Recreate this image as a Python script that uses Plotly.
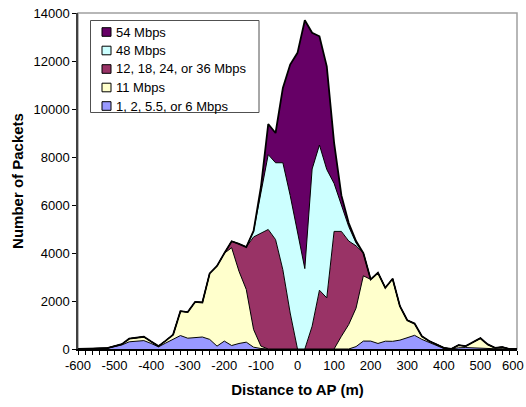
import plotly.graph_objects as go

distance = list(range(-600, 601, 20))

series_names = ["1, 2, 5.5, or 6 Mbps", "11 Mbps", "12, 18, 24, or 36 Mbps", "48 Mbps", "54 Mbps"]
series_colors = ["#9999FF", "#FFFFCC", "#993366", "#CCFFFF", "#660066"]

x_tick_vals = [-600, -500, -400, -300, -200, -100, 0, 100, 200, 300, 400, 500, 600]
x_tick_text = ["-600", "-500", "-400", "-300", "-200", "-100", "0", "100", "200", "300", "400", "500", "600"]
y_tick_vals = [0, 2000, 4000, 6000, 8000, 10000, 12000, 14000]
y_tick_text = ["0", "2000", "4000", "6000", "8000", "10000", "12000", "14000"]

rate_low = [0, 10, 20, 20, 30, 100, 170, 300, 330, 350,
            230, 90, 250, 400, 560, 450, 460, 500, 400, 120,
            330, 145, 230, 285, 75, 20, 0, 0, 0, 0,
            0, 0, 0, 0, 0, 0, 0, 0, 100, 330,
            330, 230, 325, 320, 370, 460, 570, 400, 270, 140,
            20, 0, 50, 60, 40, 40, 30, 10, 10, 0,
            0]
rate_11 = [0, 10, 10, 10, 10, 10, 30, 130, 130, 160,
           80, 30, 100, 200, 1015, 1090, 1500, 1440, 2750, 3340,
           3660, 4075, 3010, 2195, 735, 100, 0, 0, 0, 0,
           0, 0, 0, 0, 0, 0, 530, 1020, 1600, 2720,
           2570, 2945, 2225, 2605, 1410, 740, 490, 130, 60, 60,
           30, 0, 110, 60, 260, 410, 160, 40, 70, 0,
           0]
rate_mid = [0, 0, 0, 0, 0, 0, 0, 0, 0, 0,
            0, 0, 0, 0, 0, 0, 0, 0, 0, 0,
            0, 270, 1140, 1770, 3860, 4720, 4980, 4560, 3300, 1500,
            0, 0, 950, 2450, 2130, 4900, 4370, 3480, 2600, 950,
            0, 0, 0, 0, 0, 0, 0, 0, 0, 0,
            0, 0, 0, 0, 0, 0, 0, 0, 0, 0,
            0]
rate_48 = [0, 0, 0, 0, 0, 0, 0, 0, 0, 0,
           0, 0, 0, 0, 0, 0, 0, 0, 0, 0,
           0, 0, 0, 0, 250, 1660, 3120, 3200, 4460, 4900,
           4875, 3350, 6550, 6050, 5350, 2000, 1100, 600, 120, 0,
           0, 0, 0, 0, 0, 0, 0, 0, 0, 0,
           0, 0, 0, 0, 0, 0, 0, 0, 0, 0,
           0]
rate_54 = [0, 0, 0, 0, 0, 0, 0, 0, 0, 0,
           0, 0, 0, 0, 0, 0, 0, 0, 0, 0,
           0, 0, 0, 0, 0, 250, 1275, 1240, 3120, 5450,
           7465, 10350, 5675, 4530, 4300, 1700, 400, 150, 80, 0,
           0, 0, 0, 0, 0, 0, 0, 0, 0, 0,
           0, 0, 0, 0, 0, 0, 0, 0, 0, 0,
           0]

all_series = [rate_low, rate_11, rate_mid, rate_48, rate_54]
line_widths = [1, 1, 1, 1, 1.8]

W, H = 526, 407
L, R, T, B = 78, 517, 13, 349
FONT = "Arial, Liberation Sans, sans-serif"


def xp(px):
    return (px - L) / (R - L)


def yp(py):
    return (B - py) / (B - T)


fig = go.Figure()
for name, color, vals, lw in zip(series_names, series_colors, all_series, line_widths):
    fig.add_trace(go.Scatter(
        x=distance, y=vals, name=name, mode="lines",
        stackgroup="one", fillcolor=color,
        line=dict(color="black", width=lw, shape="linear"),
        showlegend=False, hoverinfo="x+y+name",
    ))

shapes = [
    dict(type="rect", xref="paper", yref="paper", x0=0, x1=1, y0=0, y1=1,
         line=dict(color="#A0A0A0", width=1.5), layer="below"),
    dict(type="rect", xref="paper", yref="paper", x0=xp(90.5), x1=xp(259), y0=yp(112.5), y1=yp(20.5),
         line=dict(color="#505050", width=1), fillcolor="white", layer="above"),
]
annotations = []
row_centers = [32, 50.5, 69, 87.5, 106]
for k, (name, color) in enumerate(zip(series_names[::-1], series_colors[::-1])):
    cy = row_centers[k]
    shapes.append(dict(type="rect", xref="paper", yref="paper",
                       x0=xp(102), x1=xp(111), y0=yp(cy + 4.3), y1=yp(cy - 4.3),
                       line=dict(color="black", width=1), fillcolor=color, layer="above"))
    annotations.append(dict(xref="paper", yref="paper", x=xp(113.5), y=yp(cy),
                            xanchor="left", yanchor="middle", showarrow=False,
                            text=name, font=dict(family=FONT, size=13, color="black")))

# last x tick label: drawn right-aligned so it stays inside the page edge
shown_x_text = x_tick_text[:-1] + [""]
annotations.append(dict(xref="paper", yref="paper", x=xp(525.5), y=yp(365),
                        xanchor="right", yanchor="middle", showarrow=False,
                        text=x_tick_text[-1], font=dict(family=FONT, size=13, color="black")))

fig.update_layout(
    width=W, height=H,
    margin=dict(l=L, r=W - R, t=T, b=H - B, pad=0),
    paper_bgcolor="white", plot_bgcolor="white",
    font=dict(family=FONT, size=13, color="black"),
    shapes=shapes, annotations=annotations,
    showlegend=False,
    xaxis=dict(
        range=[-600, 600], tickmode="array", tickvals=x_tick_vals, ticktext=shown_x_text,
        ticks="outside", ticklen=4, tickcolor="black", tickwidth=1,
        minor=dict(dtick=20, tick0=-600, ticks="outside", ticklen=4, tickcolor="black", tickwidth=1),
        showline=True, linecolor="black", linewidth=1.5,
        showgrid=False, zeroline=False, automargin=False,
        ticklabeloverflow="allow",
        tickfont=dict(family=FONT, size=13, color="black"),
        title=dict(text="<b>Distance to AP (m)</b>", font=dict(family=FONT, size=15, color="black"), standoff=12),
    ),
    yaxis=dict(
        range=[0, 14000], tickmode="array", tickvals=y_tick_vals, ticktext=y_tick_text,
        ticks="outside", ticklen=4, tickcolor="black", tickwidth=1,
        showline=True, linecolor="#404040", linewidth=1.5,
        showgrid=False, zeroline=False, automargin=False,
        ticklabeloverflow="allow",
        tickfont=dict(family=FONT, size=13, color="black"),
        title=dict(text="<b>Number of Packets</b>", font=dict(family=FONT, size=15, color="black"), standoff=6),
    ),
)

fig.write_html("out.html")
